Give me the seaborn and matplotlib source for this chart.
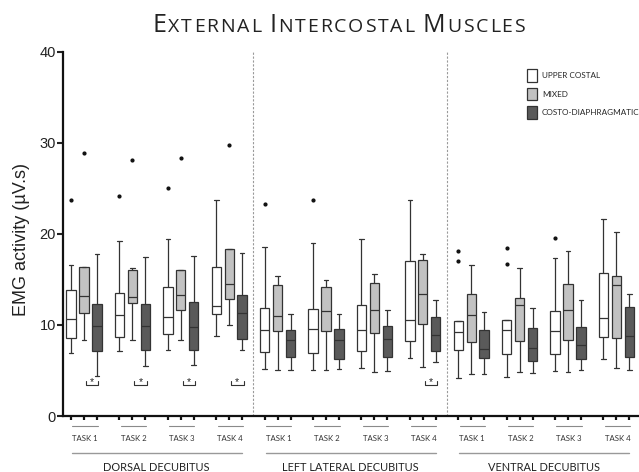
import numpy as np
import pandas as pd
import matplotlib
matplotlib.use('Agg')
import matplotlib.pyplot as plt
import seaborn as sns
from matplotlib.offsetbox import TextArea, HPacker, AnchoredOffsetbox

sns.set_style('ticks')
plt.rcParams['font.family'] = ['Liberation Sans', 'DejaVu Sans']

postures = ['DORSAL DECUBITUS', 'LEFT LATERAL DECUBITUS', 'VENTRAL DECUBITUS']
tasks = ['TASK 1', 'TASK 2', 'TASK 3', 'TASK 4']
muscles = ['UPPER COSTAL', 'MIXED', 'COSTO-DIAPHRAGMATIC']
colors = ['#ffffff', '#c2c2c2', '#5a5a5a']

# box stats, order: dorsal T1-T4, left lateral T1-T4, ventral T1-T4
uc_lo = [6.9, 7.1, 7.2, 8.8, 5.2, 5.1, 5.3, 6.4, 4.2, 4.3, 4.9, 6.3]
uc_q1 = [8.6, 8.7, 9.0, 11.2, 7.0, 6.9, 7.1, 8.2, 7.2, 6.8, 6.8, 8.7]
uc_med = [10.7, 11.1, 10.9, 12.1, 9.4, 9.6, 9.5, 10.5, 9.2, 9.5, 9.3, 10.8]
uc_q3 = [13.8, 13.5, 14.2, 16.4, 11.9, 11.8, 12.2, 17.0, 10.4, 10.6, 11.5, 15.7]
uc_hi = [16.6, 19.2, 19.4, 23.7, 18.6, 19.0, 19.5, 23.7, 10.4, 10.6, 17.4, 21.6]
uc_out = [[23.7], [24.2], [25.0], [], [23.3], [23.7], [], [], [18.1, 17.0], [18.5, 16.7], [19.6], []]

mx_lo = [8.4, 8.3, 8.4, 10.0, 5.1, 5.1, 4.8, 5.4, 4.6, 4.8, 4.8, 5.3]
mx_q1 = [11.3, 12.4, 11.6, 12.9, 9.3, 9.3, 9.1, 10.1, 8.1, 8.2, 8.4, 8.6]
mx_med = [13.2, 13.1, 13.3, 14.5, 11.0, 11.5, 11.6, 13.4, 11.1, 12.2, 11.6, 14.4]
mx_q3 = [16.4, 16.0, 16.0, 18.3, 14.4, 14.2, 14.6, 17.1, 13.4, 13.0, 14.5, 15.4]
mx_hi = [16.4, 16.3, 16.0, 18.3, 15.4, 15.0, 15.6, 17.8, 16.6, 16.3, 18.1, 20.2]
mx_out = [[28.9], [28.1], [28.3], [29.8], [], [], [], [], [], [], [], []]

cd_lo = [4.4, 5.5, 5.6, 7.3, 5.1, 5.2, 4.9, 5.9, 4.6, 4.7, 5.1, 5.1]
cd_q1 = [7.1, 7.2, 7.2, 8.5, 6.5, 6.3, 6.5, 7.1, 6.4, 6.0, 6.3, 6.5]
cd_med = [9.9, 9.9, 9.8, 11.3, 8.4, 8.4, 8.5, 8.9, 7.4, 7.5, 7.8, 8.8]
cd_q3 = [12.3, 12.3, 12.5, 13.3, 9.4, 9.6, 9.9, 10.9, 9.4, 9.7, 9.8, 12.0]
cd_hi = [17.8, 17.5, 17.6, 17.9, 11.2, 11.2, 11.6, 12.7, 11.4, 11.9, 12.8, 13.4]
cd_out = [[] for _ in range(12)]

# mixed vs costo-diaphragmatic significant (condition index)
signif = [0, 1, 2, 3, 7]

conds = [f'{p[:2]}{t}' for p in postures for t in tasks]


def box_values(lo, q1, med, q3, hi, out):
    # 9 points -> numpy quartiles land on q1/med/q3, whiskers on lo/hi
    return [lo, q1, q1, med, med, q3, q3] + [hi] * (2 - len(out)) + list(out)


rows = []
stats = {
    muscles[0]: (uc_lo, uc_q1, uc_med, uc_q3, uc_hi, uc_out),
    muscles[1]: (mx_lo, mx_q1, mx_med, mx_q3, mx_hi, mx_out),
    muscles[2]: (cd_lo, cd_q1, cd_med, cd_q3, cd_hi, cd_out),
}
for m, st in stats.items():
    for i, c in enumerate(conds):
        for v in box_values(*(s[i] for s in st)):
            rows.append({'cond': c, 'muscle': m, 'value': v})
df = pd.DataFrame(rows)

fig = plt.figure(figsize=(6.39, 4.72), dpi=100)
ax = fig.add_axes([63 / 639, 56 / 472, 576 / 639, 364 / 472])

sns.boxplot(data=df, x='cond', y='value', hue='muscle', order=conds, hue_order=muscles,
            palette=colors, saturation=1, linecolor='#333333', linewidth=0.9,
            width=0.8, gap=0.28, whis=1.5, fliersize=2,
            flierprops=dict(marker='o', markerfacecolor='#111111', markeredgecolor='#111111'),
            ax=ax)

ax.set_xlim(-0.434, 11.467)
ax.set_ylim(0, 40)
ax.set_yticks([0, 10, 20, 30, 40])
ax.set_xlabel('')
ax.set_ylabel('EMG activity (µV.s)', fontsize=13, color='#222222', labelpad=10)
ax.yaxis.set_label_coords(-0.058, 0.485)
ax.tick_params(axis='y', labelsize=10.5, length=4, width=1.5, pad=1, colors='#222222')

offs = [-0.8 / 3, 0, 0.8 / 3]
ax.set_xticks([i + o for i in range(12) for o in offs])
ax.set_xticklabels([])
ax.tick_params(axis='x', length=3, width=1.6, colors='#111111')
sns.despine(ax=ax)
for s in ['left', 'bottom']:
    ax.spines[s].set_linewidth(1.6)
    ax.spines[s].set_color('#111111')

# posture separators
for xv in [3.5, 7.5]:
    ax.axvline(xv, color='#9a9a9a', lw=0.8, ls=(0, (2, 1.5)))

# significance brackets
for i in signif:
    x0, x1 = i + offs[1] + 0.04, i + offs[2] + 0.03
    ax.plot([x0, x0, x1, x1], [3.9, 3.4, 3.4, 3.9], color='#333333', lw=0.8)
    ax.text((x0 + x1) / 2, 3.2, '*', ha='center', va='bottom', fontsize=7.5, color='#222222')

tr = ax.get_xaxis_transform()
for i, c in enumerate(conds):
    ax.plot([i - 0.24, i + 0.28], [-0.028, -0.028], transform=tr, clip_on=False,
            color='#8a8a8a', lw=0.8)
    ax.text(i + 0.02, -0.061, tasks[i % 4], transform=tr, ha='center', va='center',
            fontsize=5.6, family='Lato', color='#333333')
for g, p in enumerate(postures):
    ax.plot([4 * g - 0.25, 4 * g + 3.27], [-0.102, -0.102], transform=tr, clip_on=False,
            color='#999999', lw=1.0)
    ax.text(4 * g + 1.5, -0.141, p, transform=tr, ha='center', va='center',
            fontsize=7.9, family='Lato', color='#222222')

handles, labels = ax.get_legend_handles_labels()
ax.legend(handles, labels, loc='upper left', bbox_to_anchor=(0.805, 0.953), frameon=False,
          prop={'family': 'Lato', 'size': 5.9}, handlelength=1.25, handleheight=2.0,
          handletextpad=0.6, labelspacing=0.72, borderaxespad=0, borderpad=0)

# small-caps style title, letters packed one by one for a wider tracking
words = [('E', 'XTERNAL'), ('I', 'NTERCOSTAL'), ('M', 'USCLES')]
word_boxes = []
for big, small in words:
    letters = [TextArea(big, textprops=dict(family='Open Sans', size=18, color='#222222'))]
    letters += [TextArea(ch, textprops=dict(family='Open Sans', size=14, color='#222222'))
                for ch in small]
    word_boxes.append(HPacker(children=letters, align='baseline', pad=0, sep=1.3))
title = AnchoredOffsetbox(loc='center', child=HPacker(children=word_boxes, align='baseline', pad=0, sep=6),
                          bbox_to_anchor=(0.530, 0.945), bbox_transform=fig.transFigure,
                          frameon=False, pad=0, borderpad=0)
fig.add_artist(title)

fig.savefig('out.png', dpi=100)
